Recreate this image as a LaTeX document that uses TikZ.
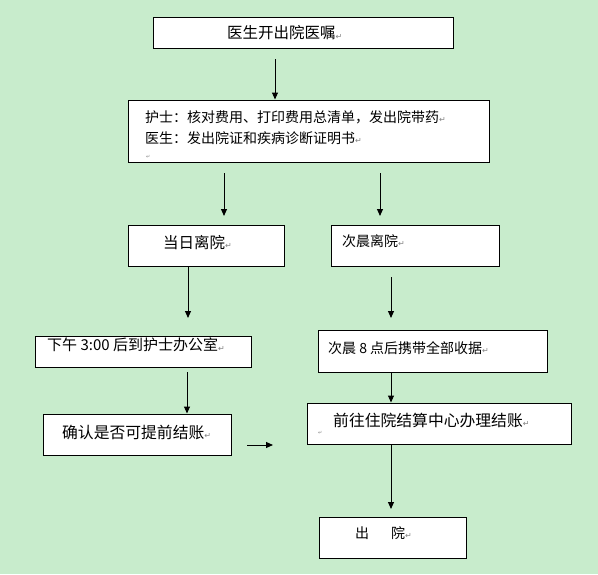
\documentclass[tikz,border=0pt]{standalone}
\usepackage{fontspec}
\setmainfont{Noto Sans CJK SC}
\newfontfamily\symfont{DejaVu Sans}
\usepackage{tikz}
\usetikzlibrary{arrows.meta}
\usetikzlibrary{positioning}
\definecolor{bggreen}{RGB}{200,236,204}
\definecolor{markgray}{RGB}{130,130,130}
\newcommand{\pmark}{{\color{markgray}\symfont\fontsize{8}{8}\selectfont\raisebox{-0.5pt}{↵}}}
\newcommand{\tinymark}{{\color{markgray}\symfont\fontsize{5}{5}\selectfont ↵}}
\tikzstyle{every node}+=[inner sep=0pt]
\tikzstyle{block} = [rectangle, draw, line width=1pt, fill=white]
\tikzstyle{line} = [draw, line width=1pt, -{Triangle[width=6pt,length=7pt]}]
\tikzstyle{txt} = [anchor=base west, align=left, font=\fontsize{14}{21}\selectfont]
\tikzstyle{bigtxt} = [txt, font=\fontsize{15.8}{21}\selectfont]
\begin{document}
\begin{tikzpicture}[x=1pt, y=-1pt]
            \useasboundingbox (0,0) rectangle (598,574);
            \fill [bggreen] (0,0) rectangle (598,574);
            % Place boxes
            \node [block, minimum width=300pt, minimum height=31pt] (b1) at (303,32.5) {};
            \node [block, minimum width=361pt, minimum height=62pt] (b2) at (308.5,131) {};
            \node [block, minimum width=156pt, minimum height=41pt] (b3) at (206,245.5) {};
            \node [block, minimum width=168pt, minimum height=41pt] (b4) at (415,245.5) {};
            \node [block, minimum width=216pt, minimum height=31pt] (b5) at (143.5,351.5) {};
            \node [block, minimum width=229pt, minimum height=42pt] (b6) at (433,351) {};
            \node [block, minimum width=188pt, minimum height=41pt] (b7) at (137,434.5) {};
            \node [block, minimum width=264pt, minimum height=41pt] (b8) at (439,423.5) {};
            \node [block, minimum width=147pt, minimum height=41pt] (b9) at (392.5,537.5) {};
            % Place texts
            \node [bigtxt, font=\fontsize{15.5}{21}\selectfont] (t1) at (227,38.8) {医生开出院医嘱\pmark};
            \node [txt] (t2) at (145,143.3) {护士：核对费用、打印费用总清单，发出院带药\pmark\\医生：发出院证和疾病诊断证明书\pmark};
            \node [txt] (m2) at (146,158) {\tinymark};
            \node [bigtxt, font=\fontsize{15.5}{21}\selectfont] (t3) at (163,248) {当日离院\pmark};
            \node [txt] (t4) at (342,246.3) {次晨离院\pmark};
            \node [txt, font=\fontsize{15}{21}\selectfont] (t5) at (47,350.5) {下午 3:00 后到护士办公室\pmark};
            \node [txt] (t6) at (328,353.3) {次晨 8 点后携带全部收据\pmark};
            \node [bigtxt] (t7) at (62,438) {确认是否可提前结账\pmark};
            \node [bigtxt] (t8) at (333,426) {前往住院结算中心办理结账\pmark};
            \node [txt] (m8) at (318,434) {\tinymark};
            \node [txt] (t9) at (355,538.3) {出\hspace{22pt}院\pmark};
            % Arrow ends
            \coordinate (a1) at (275,59);
            \coordinate (a2) at (224,173);
            \coordinate (a2e) at (224,216);
            \coordinate (a3) at (380,173);
            \coordinate (a3e) at (380,216);
            \coordinate (a4e) at (188,318);
            \coordinate (a5) at (391,277);
            \coordinate (a5e) at (391,318);
            \coordinate (a6) at (187,372);
            \coordinate (a8) at (247,445);
            \coordinate (a8e) at (273,445);
            \coordinate (a9e) at (391,509);
            % Draw edges
            \path [line] (a1) -- (a1 |- b2.north);
            \path [line] (a2) -- (a2e);
            \path [line] (a3) -- (a3e);
            \path [line] (a4e |- b3.south) -- (a4e);
            \path [line] (a5) -- (a5e);
            \path [line] (a6) -- (a6 |- b7.north);
            \path [line] (a5 |- b6.south) -- (a5 |- b8.north);
            \path [line] (a8) -- (a8e);
            \path [line] (a9e |- b8.south) -- (a9e);
\end{tikzpicture}
\end{document}
